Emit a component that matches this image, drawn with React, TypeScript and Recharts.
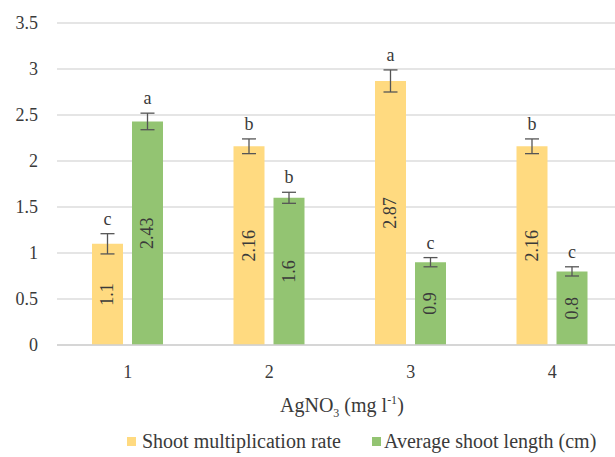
import { Bar, BarChart, CartesianGrid, ErrorBar, LabelList, XAxis, YAxis } from "recharts"

const categories = ["1", "2", "3", "4"]
const seriesNames = ["Shoot multiplication rate", "Average shoot length (cm)"]
const shootRate = [1.1, 2.16, 2.87, 2.16]
const shootRateErr = [0.11, 0.08, 0.12, 0.08]
const shootRateLetters = ["c", "b", "a", "b"]
const shootLength = [2.43, 1.6, 0.9, 0.8]
const shootLengthErr = [0.09, 0.06, 0.05, 0.05]
const shootLengthLetters = ["a", "b", "c", "c"]
const yTicks = [0, 0.5, 1, 1.5, 2, 2.5, 3, 3.5]

const YELLOW = "#ffda80"
const GREEN = "#93c472"
const FONT = "Liberation Serif, DejaVu Serif, serif"
const TEXT = "#3a3a3a"

const data = categories.map((c, i) => ({
  dose: c,
  rate: shootRate[i],
  rateErr: shootRateErr[i],
  rateLetter: shootRateLetters[i],
  length: shootLength[i],
  lengthErr: shootLengthErr[i],
  lengthLetter: shootLengthLetters[i],
}))

// value written sideways in the middle of the bar
const valueLabel = (props: any) => {
  const { x, y, width, height, value } = props
  const cx = x + width / 2
  const cy = y + height / 2
  return (
    <text
      x={cx}
      y={cy}
      transform={`rotate(-90 ${cx} ${cy})`}
      textAnchor="middle"
      dominantBaseline="central"
      style={{ fontFamily: FONT }}
      fontSize={18}
      fill={TEXT}
    >
      {value}
    </text>
  )
}

// significance letter just above the error bar
const letterLabel = (errs: number[], vals: number[], letters: string[]) => (props: any) => {
  const { x, y, width, height, index } = props
  const perUnit = height / vals[index]
  const top = y - errs[index] * perUnit
  return (
    <text x={x + width / 2} y={top - 9} textAnchor="middle" style={{ fontFamily: FONT }} fontSize={18} fill={TEXT}>
      {letters[index]}
    </text>
  )
}

const legendItem = { position: "absolute" as const, top: 430, display: "flex", alignItems: "center", whiteSpace: "nowrap" as const }
const swatch = { display: "inline-block", width: 9, height: 9, marginRight: 6 }

export default function App() {
  return (
    <div style={{ position: "absolute", left: 0, top: 0, width: 615, height: 457, overflow: "hidden", background: "#fff", fontFamily: FONT, color: TEXT }}>
      <BarChart
        width={630}
        height={457}
        data={data}
        margin={{ top: 23, right: 7, bottom: 82, left: 0 }}
        barSize={31}
        barGap={9}
      >
        <CartesianGrid vertical={false} stroke="#dcdcdc" strokeWidth={1.5} />
        <XAxis
          dataKey="dose"
          height={30}
          tickLine={false}
          axisLine={{ stroke: "#d0d0d0", strokeWidth: 1.5 }}
          tickSize={0}
          tickMargin={20}
          tick={{ fontFamily: FONT, fontSize: 18, fill: TEXT }}
        />
        <YAxis
          width={57}
          domain={[0, 3.5]}
          ticks={yTicks}
          axisLine={false}
          tickLine={false}
          tickSize={0}
          tickMargin={19}
          tick={{ fontFamily: FONT, fontSize: 18, fill: TEXT }}
        />
        <Bar dataKey="rate" name={seriesNames[0]} fill={YELLOW} isAnimationActive={false}>
          <ErrorBar dataKey="rateErr" width={7} stroke="#555" strokeWidth={1.3} isAnimationActive={false} />
          <LabelList dataKey="rate" content={valueLabel} />
          <LabelList dataKey="rateLetter" content={letterLabel(shootRateErr, shootRate, shootRateLetters)} />
        </Bar>
        <Bar dataKey="length" name={seriesNames[1]} fill={GREEN} isAnimationActive={false}>
          <ErrorBar dataKey="lengthErr" width={7} stroke="#555" strokeWidth={1.3} isAnimationActive={false} />
          <LabelList dataKey="length" content={valueLabel} />
          <LabelList dataKey="lengthLetter" content={letterLabel(shootLengthErr, shootLength, shootLengthLetters)} />
        </Bar>
      </BarChart>
      <div style={{ position: "absolute", left: 280, top: 393, fontSize: 20, whiteSpace: "nowrap" }}>
        AgNO<sub style={{ fontSize: 12 }}>3</sub> (mg l<sup style={{ fontSize: 12 }}>-1</sup>)
      </div>
      <div style={{ ...legendItem, left: 127, fontSize: 20 }}>
        <span style={{ ...swatch, background: YELLOW }} />
        <span>{seriesNames[0]}</span>
      </div>
      <div style={{ ...legendItem, left: 372, fontSize: 20 }}>
        <span style={{ ...swatch, background: GREEN, marginRight: 3 }} />
        <span>{seriesNames[1]}</span>
      </div>
    </div>
  )
}
